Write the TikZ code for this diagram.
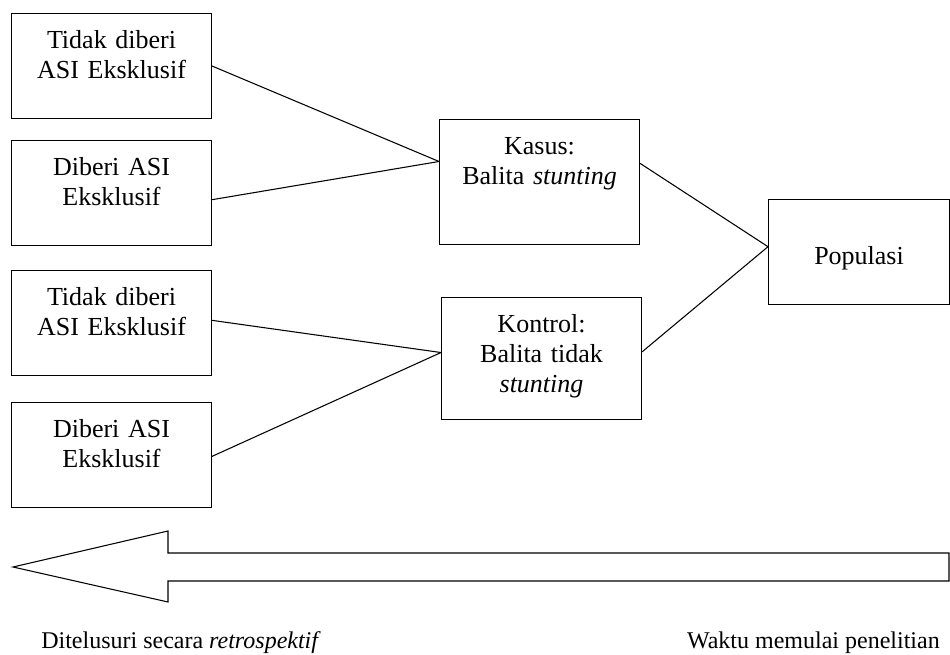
\documentclass[tikz,border=0pt]{standalone}
\usepackage{fontspec}
\setmainfont{Liberation Serif}
\usetikzlibrary{positioning}

\begin{document}
\begin{tikzpicture}[
    x=0.75pt, y=-0.75pt,
    kotak/.style={rectangle, draw, line width=0.8pt, anchor=north west, inner sep=0pt, text width=150pt, align=center, text height=26.25pt, text depth=52.5pt, font=\fontsize{19.5}{22.5}\selectfont},
    garis/.style={line width=0.8pt},
    ket/.style={inner sep=0pt, font=\fontsize{18}{21}\selectfont}
  ]
    \useasboundingbox (0,0) rectangle (950,655);

    % kelompok paparan
    \node[kotak] (tidak1) at (11,13) {Tidak diberi\\ASI Eksklusif};
    \node[kotak] (diberi1) at (11,140) {Diberi ASI\\Eksklusif};
    \node[kotak] (tidak2) at (11,270) {Tidak diberi\\ASI Eksklusif};
    \node[kotak] (diberi2) at (11,402) {Diberi ASI\\Eksklusif};

    % kasus dan kontrol
    \node[kotak, text depth=67.5pt] (kasus) at (439,119) {Kasus:\\Balita \textit{stunting}};
    \node[kotak, text depth=65.25pt] (kontrol) at (441,297) {Kontrol:\\Balita tidak\\\textit{stunting}};
    \node[kotak, text width=135.75pt, text height=48.75pt, text depth=30pt] (populasi) at (768,199) {Populasi};

    \draw[garis] (tidak1.east) -- ([yshift=15.4pt]kasus.west);
    \draw[garis] ([yshift=-5pt]diberi1.east) -- ([yshift=15.4pt]kasus.west);
    \draw[garis] ([yshift=2pt]tidak2.east) -- ([yshift=4.5pt]kontrol.west);
    \draw[garis] ([yshift=-1pt]diberi2.east) -- ([yshift=4.5pt]kontrol.west);
    \draw[garis] ([yshift=14pt]kasus.east) -- ([yshift=4pt]populasi.west);
    \draw[garis] ([yshift=5pt]kontrol.east) -- ([yshift=4pt]populasi.west);

    % panah waktu
    \draw[garis] (13,567) -- (168,531) -- (168,553) -- (949,553) -- (949,581)
      -- (168,581) -- (168,602) -- cycle;

    \node[ket, anchor=base west] (telusur) at (41,648) {Ditelusuri secara \textit{retrospektif}};
    \node[ket, anchor=base east] (mulai) at (940,648) {Waktu memulai penelitian};

  \end{tikzpicture}
\end{document}
